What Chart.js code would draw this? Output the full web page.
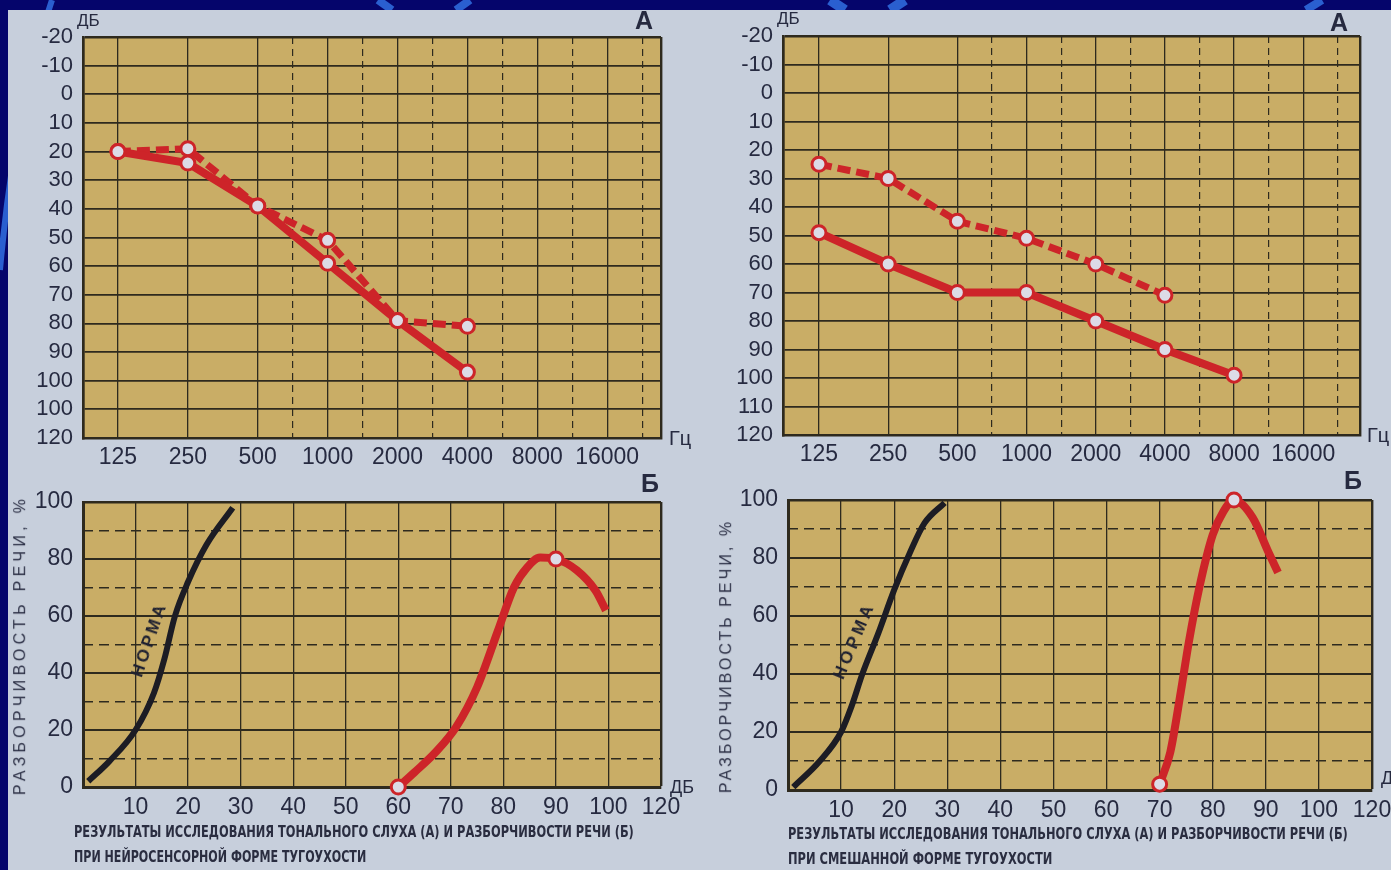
<!DOCTYPE html>
<html>
<head>
<meta charset="utf-8">
<script src="https://cdn.jsdelivr.net/npm/chart.js@4.4.1/dist/chart.umd.min.js"></script>
<style>
html,body{margin:0;padding:0;width:1391px;height:870px;overflow:hidden;background:#05056b;}
#deco{position:absolute;left:0;top:0;}
#paper{position:absolute;left:8px;top:10px;width:1383px;height:860px;background:#c7cfdc;}
canvas{position:absolute;}
.t{position:absolute;font-family:'Liberation Sans',Arial,sans-serif;color:#262a40;white-space:nowrap;line-height:1;}
.big{font-size:25px;font-weight:bold;}
.cap{position:absolute;font-family:'DejaVu Sans Condensed','DejaVu Sans',sans-serif;font-weight:bold;font-size:15px;color:#2a2d40;white-space:nowrap;line-height:1;transform-origin:0 0;}
.rot{position:absolute;font-family:'Liberation Sans',Arial,sans-serif;color:#2b2f45;white-space:nowrap;line-height:1;}
</style>
</head>
<body>
<svg id="deco" width="1391" height="870">
  <path d="M52 0 Q14 110 0 270" stroke="#2a5fd0" stroke-width="6" fill="none"/>
  <path d="M378 0 L392 10" stroke="#2a5fd0" stroke-width="8"/>
  <path d="M470 0 L456 10" stroke="#2a5fd0" stroke-width="8"/>
  <path d="M830 0 L845 10" stroke="#2a5fd0" stroke-width="10"/>
  <path d="M905 0 L890 10" stroke="#2a5fd0" stroke-width="10"/>
  <path d="M1322 0 L1306 10" stroke="#2a5fd0" stroke-width="8"/>
</svg>
<div id="paper"></div>

<canvas id="cA1" width="700" height="470" style="left:0;top:0"></canvas>
<canvas id="cA2" width="691" height="470" style="left:700px;top:0"></canvas>
<canvas id="cB1" width="700" height="400" style="left:0;top:470px"></canvas>
<canvas id="cB2" width="691" height="400" style="left:700px;top:470px"></canvas>

<div class="t" style="left:77px;top:12px;font-size:17px">ДБ</div>
<div class="t big" style="left:635px;top:8px">А</div>
<div class="t" style="left:669px;top:428px;font-size:20px">Гц</div>
<div class="t big" style="left:641px;top:471px">Б</div>
<div class="t" style="left:670px;top:778px;font-size:18px">ДБ</div>

<div class="t" style="left:777px;top:10px;font-size:17px">ДБ</div>
<div class="t big" style="left:1330px;top:10px">А</div>
<div class="t" style="left:1367px;top:425px;font-size:20px">Гц</div>
<div class="t big" style="left:1344px;top:468px">Б</div>
<div class="t" style="left:1381px;top:769px;font-size:18px">ДБ</div>

<div class="rot" id="yt1" style="font-size:16px">РАЗБОРЧИВОСТЬ РЕЧИ, %</div>
<div class="rot" id="yt2" style="font-size:16px">РАЗБОРЧИВОСТЬ РЕЧИ, %</div>
<div class="rot" id="nm1" style="font-size:17px;font-weight:bold;color:#1e2030">НОРМА</div>
<div class="rot" id="nm2" style="font-size:17px;font-weight:bold;color:#1e2030">НОРМА</div>

<div class="cap" data-w="560" style="left:74px;top:825px">РЕЗУЛЬТАТЫ ИССЛЕДОВАНИЯ ТОНАЛЬНОГО СЛУХА (А) И РАЗБОРЧИВОСТИ РЕЧИ (Б)</div>
<div class="cap" data-w="292" style="left:74px;top:850px">ПРИ НЕЙРОСЕНСОРНОЙ ФОРМЕ ТУГОУХОСТИ</div>
<div class="cap" data-w="560" style="left:788px;top:827px">РЕЗУЛЬТАТЫ ИССЛЕДОВАНИЯ ТОНАЛЬНОГО СЛУХА (А) И РАЗБОРЧИВОСТИ РЕЧИ (Б)</div>
<div class="cap" data-w="264" style="left:788px;top:852px">ПРИ СМЕШАННОЙ ФОРМЕ ТУГОУХОСТИ</div>

<script>
// ================= DATA =================
const freqs      = [125, 250, 500, 1000, 2000, 4000, 8000, 16000];
const freqLabels = ['125', '250', '500', '1000', '2000', '4000', '8000', '16000'];
const dbTicks       = [-20, -10, 0, 10, 20, 30, 40, 50, 60, 70, 80, 90, 100, 110, 120];
const dbLabelsLeft  = ['-20', '-10', '0', '10', '20', '30', '40', '50', '60', '70', '80', '90', '100', '100', '120'];
const dbLabelsRight = ['-20', '-10', '0', '10', '20', '30', '40', '50', '60', '70', '80', '90', '100', '110', '120'];

// Left audiogram (neurosensory)
const nsFreq = [125, 250, 500, 1000, 2000, 4000];
const nsAir  = [20, 24, 39, 59, 79, 97];
const nsBone = [20, 19, 39, 51, 79, 81];

// Right audiogram (mixed)
const mixAirFreq  = [125, 250, 500, 1000, 2000, 4000, 8000];
const mixAir      = [49, 60, 70, 70, 80, 90, 99];
const mixBoneFreq = [125, 250, 500, 1000, 2000, 4000];
const mixBone     = [25, 30, 45, 51, 60, 71];

// Speech charts
const speechTicks  = [0, 10, 20, 30, 40, 50, 60, 70, 80, 90, 100, 110];
const speechLabels = ['', '10', '20', '30', '40', '50', '60', '70', '80', '90', '100', '120'];
const pctTicks  = [0, 20, 40, 60, 80, 100];
const pctMinor  = [10, 30, 50, 70, 90];

const normaDbL  = [1, 5, 10, 13.5, 15.5, 17.5, 20, 23.5, 28.5];
const normaPctL = [2, 9, 20, 33, 45, 60, 72, 85, 98];
const nsSpeechDb    = [60, 63, 67, 71, 75, 79, 82, 84.5, 87, 90, 94, 97.5, 99.5];
const nsSpeechPct   = [0, 5, 12, 21, 35, 55, 70, 77, 80.5, 80, 76, 69, 62];
const nsSpeechMarks = [60, 90];

const normaDbR  = [1, 6, 10, 12, 14, 17, 20, 23, 25.7, 29.5];
const normaPctR = [1, 10, 20, 29, 40, 54, 69, 82, 92, 99];
const mixSpeechDb    = [70, 72, 74, 75.5, 77.5, 80, 82, 84, 87.5, 90.5, 92.3];
const mixSpeechPct   = [2, 13, 34, 51, 70, 88, 96, 100, 94, 82, 75];
const mixSpeechMarks = [70, 84];

// ================= STYLE =================
const INK = '#262a40', GRID = '#2e2a1e', RED = '#cd2429', BLACK = '#1c1c24', PLOT = '#c9ad66', MARK = '#dcdbe6';

Chart.defaults.font.family = "'Liberation Sans', Arial, sans-serif";
Chart.defaults.animation = false;
Chart.defaults.events = [];
Chart.defaults.plugins.legend.display = false;
Chart.defaults.plugins.tooltip.enabled = false;

const plotBg = {
  id: 'plotBg',
  beforeDraw(c) {
    const a = c.chartArea, ctx = c.ctx;
    ctx.save(); ctx.fillStyle = PLOT;
    ctx.fillRect(a.left, a.top, a.right - a.left, a.bottom - a.top);
    ctx.restore();
  }
};

const setTicks = vals => s => { s.ticks = vals.map(v => ({ value: v })); };
const fixH = h => s => { s.height = h; s.paddingLeft = 0; s.paddingRight = 0; };
const fixW = w => s => { s.width = w; s.paddingTop = 0; s.paddingBottom = 0; };
const pts = (xs, ys) => xs.map((x, i) => ({ x: x, y: ys[i] }));

function audiogram(id, geo, yLabels, datasets) {
  const [W, H, L, T, R, B, o0, o1] = geo;
  const xmin = 125 * Math.pow(2, o0), xmax = 125 * Math.pow(2, o1);
  const halfOct = freqs.slice(2).map(f => f * Math.SQRT2);
  return new Chart(document.getElementById(id), {
    type: 'line',
    data: { datasets: datasets },
    plugins: [plotBg],
    options: {
      responsive: false, devicePixelRatio: 1,
      layout: { padding: { left: 0, top: T, right: W - R, bottom: 0 } },
      scales: {
        x: {
          type: 'logarithmic', min: xmin, max: xmax, bounds: 'data',
          afterBuildTicks: setTicks([xmin].concat(freqs, [xmax])),
          afterFit: fixH(H - B),
          ticks: { autoSkip: false, maxRotation: 0, minRotation: 0, padding: 6, color: INK, font: { size: 23 },
                   callback: v => { const i = freqs.indexOf(v); return i < 0 ? '' : freqLabels[i]; } },
          grid: { drawTicks: false, color: GRID,
                  lineWidth: c => (c.tick && (c.tick.value === xmin || c.tick.value === xmax)) ? 2.4 : 1.3 },
          border: { display: true, color: GRID, width: 2.5 }
        },
        xd: {
          type: 'logarithmic', position: 'bottom', min: xmin, max: xmax, bounds: 'data',
          afterBuildTicks: setTicks(halfOct), afterFit: fixH(0),
          ticks: { display: false },
          grid: { drawTicks: false, color: GRID, lineWidth: 1.2 },
          border: { display: false, dash: [7, 5] }
        },
        y: {
          type: 'linear', reverse: true, min: -20, max: 120, bounds: 'data',
          afterBuildTicks: setTicks(dbTicks), afterFit: fixW(L),
          ticks: { autoSkip: false, padding: 10, color: INK, font: { size: 22 }, callback: v => yLabels[dbTicks.indexOf(v)] },
          grid: { drawTicks: false, color: GRID, lineWidth: c => (c.tick && (c.tick.value === -20)) ? 2.4 : 1.8 },
          border: { display: true, color: GRID, width: 2.5 }
        }
      }
    }
  });
}

function speechChart(id, geo, datasets) {
  const [W, H, L, T, R, B] = geo;
  return new Chart(document.getElementById(id), {
    type: 'line',
    data: { datasets: datasets },
    plugins: [plotBg],
    options: {
      responsive: false, devicePixelRatio: 1,
      layout: { padding: { left: 0, top: T, right: W - R, bottom: 0 } },
      scales: {
        x: {
          type: 'linear', min: 0, max: 110, bounds: 'data',
          afterBuildTicks: setTicks(speechTicks), afterFit: fixH(H - B),
          ticks: { autoSkip: false, maxRotation: 0, minRotation: 0, padding: 7, color: INK, font: { size: 23 },
                   callback: v => speechLabels[speechTicks.indexOf(v)] },
          grid: { drawTicks: false, color: GRID, lineWidth: c => (c.tick && c.tick.value === 110) ? 2.4 : 1.3 },
          border: { display: true, color: GRID, width: 3 }
        },
        y: {
          type: 'linear', min: 0, max: 100, bounds: 'data',
          afterBuildTicks: setTicks(pctTicks), afterFit: fixW(L),
          ticks: { autoSkip: false, padding: 10, color: INK, font: { size: 23 }, callback: v => String(v) },
          grid: { drawTicks: false, color: GRID, lineWidth: c => (c.tick && c.tick.value === 100) ? 2.4 : 2 },
          border: { display: true, color: GRID, width: 3 }
        },
        yd: {
          type: 'linear', position: 'left', min: 0, max: 100, bounds: 'data',
          afterBuildTicks: setTicks(pctMinor), afterFit: fixW(0),
          ticks: { display: false },
          grid: { drawTicks: false, color: GRID, lineWidth: 1.5 },
          border: { display: false, dash: [10, 6] }
        }
      }
    }
  });
}

const markerStyle = { pointRadius: 7, pointBorderWidth: 3, pointBackgroundColor: MARK, pointBorderColor: RED };
function audioLine(xs, ys, dashed) {
  return Object.assign({ data: pts(xs, ys), borderColor: RED, borderWidth: dashed ? 7 : 8,
    borderDash: dashed ? [13, 6] : [], tension: 0, clip: false, fill: false, order: dashed ? 1 : 0 }, markerStyle);
}
function curve(xs, ys, color, width, marks) {
  return Object.assign({}, markerStyle, {
    data: pts(xs, ys), borderColor: color, borderWidth: width, cubicInterpolationMode: 'monotone',
    clip: false, fill: false,
    pointRadius: c => (marks && marks.includes(xs[c.dataIndex])) ? 7 : 0
  });
}

audiogram('cA1', [700, 470, 83, 37, 661, 438, -0.5, 7.77], dbLabelsLeft, [
  audioLine(nsFreq, nsAir, false),
  audioLine(nsFreq, nsBone, true)
]);
audiogram('cA2', [691, 470, 83, 36, 660, 435, -0.52, 7.82], dbLabelsRight, [
  audioLine(mixAirFreq, mixAir, false),
  audioLine(mixBoneFreq, mixBone, true)
]);
speechChart('cB1', [700, 400, 83, 32, 661, 317], [
  curve(normaDbL, normaPctL, BLACK, 6, null),
  curve(nsSpeechDb, nsSpeechPct, RED, 8, nsSpeechMarks)
]);
speechChart('cB2', [691, 400, 88, 30, 672, 320], [
  curve(normaDbR, normaPctR, BLACK, 6, null),
  curve(mixSpeechDb, mixSpeechPct, RED, 8, mixSpeechMarks)
]);

// ================= TEXT FITTING =================
document.querySelectorAll('.cap').forEach(el => {
  const k = parseFloat(el.dataset.w) / el.offsetWidth;
  el.style.transform = 'scaleX(' + k + ')';
});
function placeRot(id, cx, cy, len, angle) {
  const el = document.getElementById(id);
  const n = el.textContent.length;
  const w0 = el.offsetWidth;
  el.style.letterSpacing = ((len - w0) / n) + 'px';
  const w = el.offsetWidth, h = el.offsetHeight;
  el.style.left = (cx - w / 2) + 'px';
  el.style.top = (cy - h / 2) + 'px';
  el.style.transform = 'rotate(' + angle + 'deg)';
}
placeRot('yt1', 20, 645, 300, -90);
placeRot('yt2', 726, 656, 274, -90);
placeRot('nm1', 149, 639, 78, -71);
placeRot('nm2', 854, 640, 82, -67);
</script>
</body>
</html>
